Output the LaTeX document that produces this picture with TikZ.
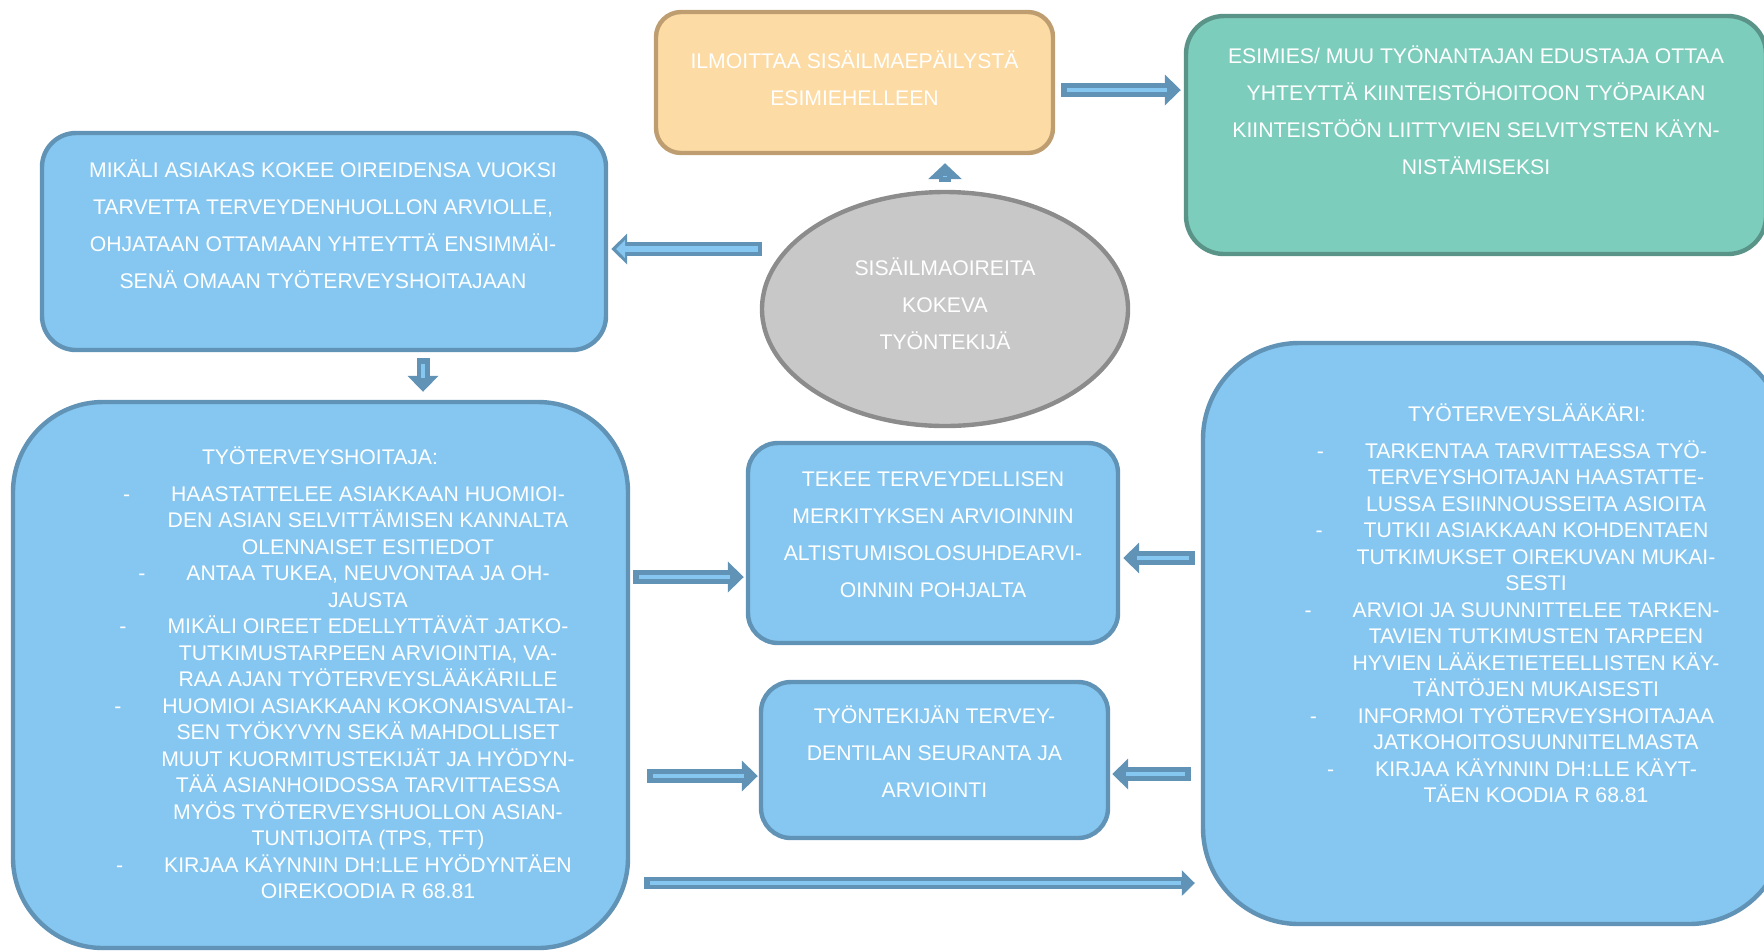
\documentclass[tikz,border=0pt]{standalone}
\usepackage{fontspec}
\setmainfont{Liberation Sans}
\usetikzlibrary{calc,shapes.geometric,arrows.meta}
\definecolor{bfill}{RGB}{133,199,240}
\definecolor{bline}{RGB}{96,147,182}
\definecolor{ofill}{RGB}{253,219,164}
\definecolor{oline}{RGB}{190,158,112}
\definecolor{gfill}{RGB}{125,205,189}
\definecolor{gline}{RGB}{90,148,136}
\definecolor{efill}{RGB}{200,200,200}
\definecolor{eline}{RGB}{140,140,140}
\newcommand{\itemdash}{\llap{-\hspace{20.5pt}}}
\tikzset{
  box/.style={draw, line width=2.2pt, inner sep=0pt},
  bluebox/.style={box, fill=bfill, draw=bline},
  txt/.style={text=white, align=center, inner sep=0pt, font=\fontsize{10.6}{18.5}\selectfont},
  ltxt/.style={txt, font=\fontsize{10.6}{13.25}\selectfont},
  blk/.style={draw=bline, line width=7pt, -{Triangle[length=8pt,width=15pt]},
    postaction={draw=bfill, line width=2pt, -, shorten >=7pt, shorten <=3pt}},
  blko/.style={draw=bline, line width=7pt, -{Triangle[length=8pt,width=15pt]},
    postaction={draw=bfill, line width=3pt, -{Triangle[length=4.5pt,width=9pt]}, shorten >=2.5pt, shorten <=2pt}},
}
\begin{document}
\begin{tikzpicture}[x=0.5pt, y=-0.5pt]
\useasboundingbox (0,0) rectangle (1764,950);
\clip (0,0) rectangle (1764,950);
% boxes
\node[box, fill=ofill, draw=oline, rounded corners=12.5pt, minimum width=198.5pt, minimum height=70.5pt] (org) at (854.5,82.5) {};
\node[box, fill=gfill, draw=gline, rounded corners=19pt, minimum width=290pt, minimum height=119pt] (grn) at (1476,135) {};
\node[bluebox, rounded corners=17pt, minimum width=282pt, minimum height=108.5pt] (mik) at (324,241.5) {};
\node[box, ellipse, fill=efill, draw=eline, minimum width=183pt, minimum height=117pt] (ell) at (945,309) {};
\node[bluebox, rounded corners=45pt, minimum width=307.5pt, minimum height=273pt] (thoit) at (320.5,675) {};
\node[bluebox, rounded corners=15pt, minimum width=185pt, minimum height=100pt] (mid1) at (933,543) {};
\node[bluebox, rounded corners=15pt, minimum width=173.5pt, minimum height=78pt] (mid2) at (934.5,760) {};
\node[bluebox, rounded corners=48pt, minimum width=291pt, minimum height=290.5pt] (tlaak) at (1494,633.5) {};
% texts
\node[txt] (orgt) at ($(org.center)+(0,-4.75)$) {ILMOITTAA SISÄILMAEPÄILYSTÄ\\ESIMIEHELLEEN};
\node[txt] (grnt) at ($(grn.center)+(0,-24.5)$) {ESIMIES/ MUU TYÖNANTAJAN EDUSTAJA OTTAA\\YHTEYTTÄ KIINTEISTÖHOITOON TYÖPAIKAN\\KIINTEISTÖÖN LIITTYVIEN SELVITYSTEN KÄYN-\\NISTÄMISEKSI};
\node[txt] (mikt) at ($(mik.center)+(-1,-17.5)$) {MIKÄLI ASIAKAS KOKEE OIREIDENSA VUOKSI\\TARVETTA TERVEYDENHUOLLON ARVIOLLE,\\OHJATAAN OTTAMAAN YHTEYTTÄ ENSIMMÄI-\\SENÄ OMAAN TYÖTERVEYSHOITAJAAN};
\node[txt] (ellt) at ($(ell.center)+(0,-5)$) {SISÄILMAOIREITA\\KOKEVA\\TYÖNTEKIJÄ};
\node[txt] (mid1t) at ($(mid1.center)+(0,-8.5)$) {TEKEE TERVEYDELLISEN\\MERKITYKSEN ARVIOINNIN\\ALTISTUMISOLOSUHDEARVI-\\OINNIN POHJALTA};
\node[txt] (mid2t) at ($(mid2.center)+(0,-8)$) {TYÖNTEKIJÄN TERVEY-\\DENTILAN SEURANTA JA\\ARVIOINTI};
\node[ltxt] (thoitt) at ($(thoit.center)+(47.5,-2)$) {TYÖTERVEYSHOITAJA:\rule{48pt}{0pt}\\[5pt]
\itemdash HAASTATTELEE ASIAKKAAN HUOMIOI-\\DEN ASIAN SELVITTÄMISEN KANNALTA\\OLENNAISET ESITIEDOT\\
\itemdash ANTAA TUKEA, NEUVONTAA JA OH-\\JAUSTA\\
\itemdash MIKÄLI OIREET EDELLYTTÄVÄT JATKO-\\TUTKIMUSTARPEEN ARVIOINTIA, VA-\\RAA AJAN TYÖTERVEYSLÄÄKÄRILLE\\
\itemdash HUOMIOI ASIAKKAAN KOKONAISVALTAI-\\SEN TYÖKYVYN SEKÄ MAHDOLLISET\\MUUT KUORMITUSTEKIJÄT JA HYÖDYN-\\TÄÄ ASIANHOIDOSSA TARVITTAESSA\\MYÖS TYÖTERVEYSHUOLLON ASIAN-\\TUNTIJOITA (TPS, TFT)\\
\itemdash KIRJAA KÄYNNIN DH:LLE HYÖDYNTÄEN\\OIREKOODIA R 68.81};
\node[ltxt] (tlaakt) at ($(tlaak.center)+(42,-30)$) {TYÖTERVEYSLÄÄKÄRI:\rule{9pt}{0pt}\\[5pt]
\itemdash TARKENTAA TARVITTAESSA TYÖ-\\TERVEYSHOITAJAN HAASTATTE-\\LUSSA ESIINNOUSSEITA ASIOITA\\
\itemdash TUTKII ASIAKKAAN KOHDENTAEN\\TUTKIMUKSET OIREKUVAN MUKAI-\\SESTI\\
\itemdash ARVIOI JA SUUNNITTELEE TARKEN-\\TAVIEN TUTKIMUSTEN TARPEEN\\HYVIEN LÄÄKETIETEELLISTEN KÄY-\\TÄNTÖJEN MUKAISESTI\\
\itemdash INFORMOI TYÖTERVEYSHOITAJAA\\JATKOHOITOSUUNNITELMASTA\\
\itemdash KIRJAA KÄYNNIN DH:LLE KÄYT-\\TÄEN KOODIA R 68.81};
% connectors
\draw[blk] ($(org.east)+(6,7.5)$) -- ($(grn.west)+(-3,-45)$);
\draw[blk, line width=6pt, -{Triangle[length=8pt,width=16.5pt]}, postaction={shorten >=4pt, shorten <=2pt}] ($(ell.north)+(0,-8)$) -- ($(org.south)+(90.5,8)$);
\draw[blko] ($(ell.west)+(2,-60)$) -- ($(mik.east)+(3,7.5)$);
\draw[blk, line width=6.5pt] ($(mik.south)+(99,6)$) -- ($(thoit.north)+(102.5,-8)$);
\draw[blk] ($(thoit.east)+(3,-98)$) -- ($(mid1.west)+(-2,34)$);
\draw[blk] ($(tlaak.west)+(-6,-75.5)$) -- ($(mid1.east)+(3,15)$);
\draw[blk] ($(thoit.east)+(17,101)$) -- ($(mid2.west)+(-1,16)$);
\draw[blk] ($(tlaak.west)+(-10,140.5)$) -- ($(mid2.east)+(2,14)$);
\draw[blk, line width=6pt, -{Triangle[length=6.5pt,width=12.5pt]}] ($(thoit.east)+(14,208)$) -- ($(tlaak.west)+(-6,249.5)$);
\end{tikzpicture}
\end{document}
